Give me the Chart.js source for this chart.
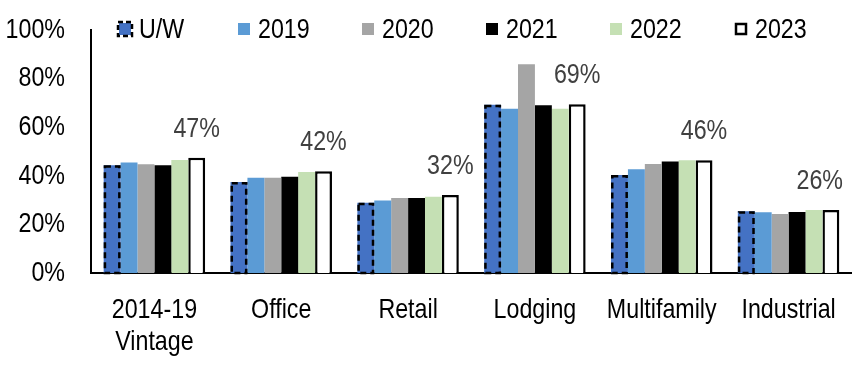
<!DOCTYPE html>
<html><head><meta charset="utf-8">
<script src="https://cdn.jsdelivr.net/npm/chart.js@4/dist/chart.umd.min.js"></script>
<style>html,body{margin:0;padding:0;background:#fff}#w{width:852px;height:379px}</style>
</head><body><div id="w"><canvas id="c"></canvas></div>
<script>
const categories = [['2014-19','Vintage'],'Office','Retail','Lodging','Multifamily','Industrial'];
const seriesNames = ['U/W','2019','2020','2021','2022','2023'];
const uw    = [44.2, 37.4, 28.8, 69.1, 40.2, 25.4];
const y2019 = [45.4, 39.1, 29.8, 67.5, 42.6, 25.0];
const y2020 = [44.7, 39.1, 30.8, 85.7, 44.8, 24.2];
const y2021 = [44.3, 39.5, 30.8, 68.9, 45.8, 25.1];
const y2022 = [46.4, 41.5, 31.3, 67.5, 46.3, 25.9];
const y2023 = [47.3, 41.8, 32.0, 69.3, 46.3, 25.9];
const yTicks = [0,20,40,60,80,100];

const FONT = '"Liberation Sans",Arial,sans-serif';
const FS = 28;
const SX = 0.83; // horizontal condense to mimic Arial Narrow

const colors = ['#4472C4','#5B9BD5','#A5A5A5','#000000','#C5E0B4','#FFFFFF'];
const values = [uw,y2019,y2020,y2021,y2022,y2023];

const datasets = values.map((v,i)=>({
  label: seriesNames[i], data: v, backgroundColor: colors[i],
  borderColor: '#000', borderWidth: i===5 ? 2.5 : 0,
  categoryPercentage: 0.8, barPercentage: 1.0
}));

function narrowText(ctx, text, x, y, align){
  ctx.save();
  ctx.translate(x, y);
  ctx.scale(SX, 1);
  ctx.textAlign = align;
  ctx.fillText(text, 0, 0);
  ctx.restore();
}

const custom = {
  id:'custom',
  afterDraw(chart){
    const ctx = chart.ctx;
    // dashed outline for U/W
    const m0 = chart.getDatasetMeta(0);
    ctx.save();
    ctx.strokeStyle='#000'; ctx.lineWidth=2.5; ctx.setLineDash([6,4]);
    m0.data.forEach(el=>{
      const p = el.getProps(['x','y','base','width'],true);
      ctx.strokeRect(p.x-p.width/2+1.25, p.y+1.25, p.width-2.5, p.base-p.y-1.25);
    });
    ctx.restore();

    ctx.save();
    ctx.font = FS+'px '+FONT; ctx.textBaseline='alphabetic';
    // value labels above 2023
    ctx.fillStyle='#404040';
    const m5 = chart.getDatasetMeta(5);
    m5.data.forEach((el,i)=>{
      const p = el.getProps(['x','y'],true);
      const t = Math.round(y2023[i])+'%';
      const w = ctx.measureText(t).width*SX;
      const x = Math.min(p.x, chart.width - 9 - w/2);
      narrowText(ctx, t, x, p.y-21, 'center');
    });
    // y tick labels
    ctx.fillStyle='#000';
    const ys = chart.scales.y;
    yTicks.forEach(v=>{
      narrowText(ctx, v+'%', ys.right-26, ys.getPixelForValue(v)+8, 'right');
    });
    // x tick labels
    const xs = chart.scales.x;
    categories.forEach((c,i)=>{
      const lines = Array.isArray(c)?c:[c];
      const x = xs.getPixelForTick(i);
      lines.forEach((ln,j)=>narrowText(ctx, ln, x, 318 + j*32, 'center'));
    });
    // legend
    const ly = 29, box = 12;
    const starts = [119, 238, 362, 486, 610, 735];
    datasets.forEach((d,i)=>{
      const x = starts[i];
      ctx.fillStyle = d.backgroundColor;
      ctx.fillRect(x, ly-box/2, box, box);
      if(i===0){ ctx.strokeStyle='#000'; ctx.lineWidth=2.5; ctx.setLineDash([5,3]); ctx.strokeRect(x-1,ly-box/2-1,box+2,box+2); ctx.setLineDash([]); }
      if(i===5){ ctx.strokeStyle='#000'; ctx.lineWidth=2.5; ctx.strokeRect(x+1,ly-box/2+1,box-2,box-2); }
      ctx.fillStyle='#000';
      narrowText(ctx, d.label, x+box+8, 38, 'left');
    });
    ctx.restore();
  }
};

new Chart(document.getElementById('c'), {
  type:'bar',
  data:{ labels: categories, datasets },
  options:{
    responsive:true, maintainAspectRatio:false, animation:false,
    layout:{ padding:{ top:29.5, right:0, left:0, bottom:0 } },
    plugins:{ legend:{display:false}, tooltip:{enabled:false} },
    scales:{
      x:{
        grid:{ display:false, drawTicks:false },
        border:{ color:'#000', width:2 },
        ticks:{ color:'rgba(0,0,0,0)', font:{ family:FONT, size:6 }, maxRotation:0, autoSkip:false },
        afterFit(s){ s.height = 379-273; }
      },
      y:{
        min:0, max:100,
        afterBuildTicks(s){ s.ticks = yTicks.map(v=>({value:v})); },
        grid:{ display:false, drawOnChartArea:false, drawTicks:true, tickLength:7, tickColor:'#000', tickWidth:2 },
        border:{ color:'#000', width:2 },
        ticks:{ color:'rgba(0,0,0,0)', font:{ family:FONT, size:6 }, padding:17, callback:v=>v+'%' },
        afterFit(s){ s.width = 91; }
      }
    }
  },
  plugins:[custom]
});
</script></body></html>
